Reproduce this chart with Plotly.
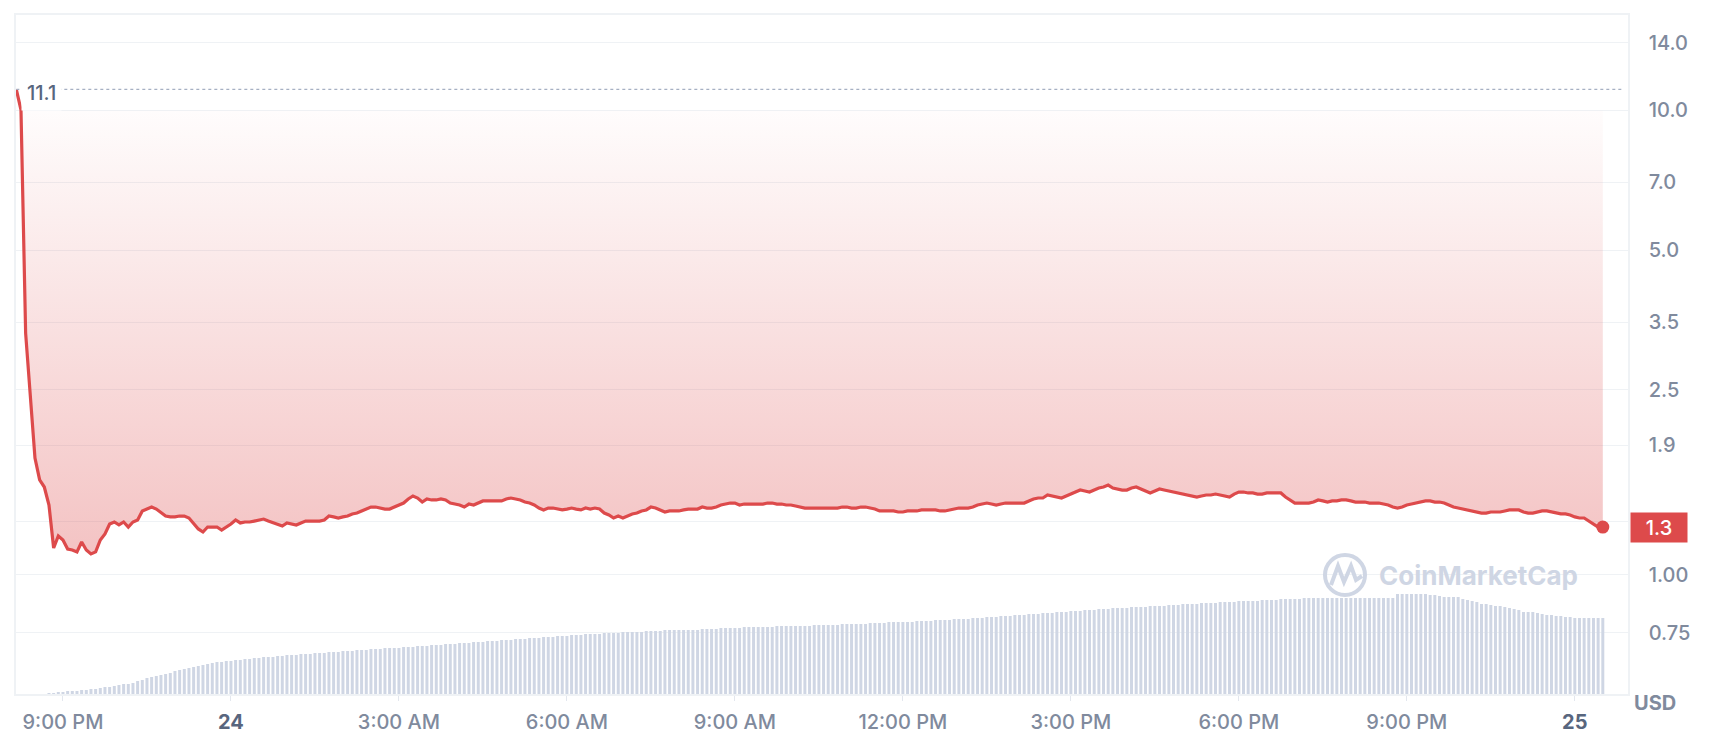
import math
import pandas as pd
import plotly.graph_objects as go

# ---------------- data ----------------
start_time = "2024-03-23 20:10"   # first 5-minute sample
sample_freq = "5min"

price = [
    11.1, 10.02, 3.31, 2.46, 1.782, 1.599, 1.544, 1.412, 1.141, 1.211, 1.187, 1.135,
    1.130, 1.119, 1.175, 1.130, 1.108, 1.119, 1.187, 1.223, 1.285, 1.298, 1.279, 1.298,
    1.266, 1.298, 1.311, 1.371, 1.384, 1.398, 1.384, 1.357, 1.337, 1.331, 1.331, 1.337,
    1.337, 1.324, 1.285, 1.254, 1.235, 1.266, 1.266, 1.266, 1.247, 1.266, 1.285, 1.311,
    1.292, 1.298, 1.298, 1.304, 1.311, 1.317, 1.304, 1.292, 1.285, 1.272, 1.292, 1.285,
    1.279, 1.292, 1.304, 1.304, 1.304, 1.304, 1.311, 1.337, 1.331, 1.324, 1.331, 1.337,
    1.351, 1.357, 1.371, 1.384, 1.398, 1.398, 1.391, 1.384, 1.384, 1.398, 1.412, 1.426,
    1.455, 1.477, 1.462, 1.433, 1.455, 1.448, 1.448, 1.455, 1.448, 1.426, 1.419, 1.412,
    1.398, 1.419, 1.412, 1.426, 1.441, 1.441, 1.441, 1.441, 1.441, 1.455, 1.462, 1.455,
    1.448, 1.433, 1.426, 1.412, 1.391, 1.378, 1.391, 1.391, 1.384, 1.378, 1.384, 1.391,
    1.384, 1.378, 1.391, 1.384, 1.391, 1.384, 1.357, 1.344, 1.324, 1.337, 1.324, 1.337,
    1.351, 1.357, 1.371, 1.378, 1.398, 1.391, 1.378, 1.364, 1.371, 1.371, 1.371, 1.378,
    1.384, 1.384, 1.384, 1.398, 1.391, 1.391, 1.398, 1.412, 1.419, 1.426, 1.426, 1.412,
    1.419, 1.419, 1.419, 1.419, 1.419, 1.426, 1.426, 1.419, 1.419, 1.412, 1.412, 1.405,
    1.398, 1.391, 1.391, 1.391, 1.391, 1.391, 1.391, 1.391, 1.391, 1.398, 1.398, 1.391,
    1.391, 1.398, 1.398, 1.391, 1.384, 1.371, 1.371, 1.371, 1.371, 1.364, 1.364, 1.371,
    1.371, 1.371, 1.378, 1.378, 1.378, 1.378, 1.371, 1.371, 1.378, 1.384, 1.391, 1.391,
    1.391, 1.398, 1.412, 1.419, 1.426, 1.419, 1.412, 1.419, 1.426, 1.426, 1.426, 1.426,
    1.426, 1.441, 1.455, 1.462, 1.462, 1.484, 1.477, 1.469, 1.462, 1.477, 1.491, 1.506,
    1.521, 1.514, 1.506, 1.521, 1.536, 1.544, 1.559, 1.536, 1.529, 1.521, 1.521, 1.536,
    1.544, 1.529, 1.514, 1.499, 1.514, 1.529, 1.521, 1.514, 1.506, 1.499, 1.491, 1.484,
    1.477, 1.469, 1.477, 1.484, 1.484, 1.491, 1.484, 1.477, 1.469, 1.491, 1.506, 1.506,
    1.499, 1.499, 1.491, 1.491, 1.499, 1.499, 1.499, 1.499, 1.469, 1.448, 1.426, 1.426,
    1.426, 1.426, 1.433, 1.448, 1.441, 1.433, 1.441, 1.441, 1.448, 1.448, 1.441, 1.433,
    1.433, 1.433, 1.426, 1.426, 1.426, 1.419, 1.412, 1.398, 1.391, 1.398, 1.412, 1.419,
    1.426, 1.433, 1.441, 1.441, 1.433, 1.433, 1.426, 1.412, 1.398, 1.391, 1.384, 1.378,
    1.371, 1.364, 1.357, 1.357, 1.364, 1.364, 1.364, 1.371, 1.378, 1.378, 1.378, 1.364,
    1.357, 1.357, 1.364, 1.371, 1.371, 1.364, 1.357, 1.351, 1.351, 1.344, 1.331, 1.324,
    1.324, 1.304, 1.285, 1.266, 1.266,
]

# 24h volume (relative units), one bar per 5-minute sample
volume = [
    0, 0, 0, 0, 0, 0, 0, 1, 1, 2, 2, 3,
    3, 3, 4, 4, 5, 5, 6, 7, 7, 8, 9, 10,
    10, 11, 13, 14, 16, 17, 18, 19, 20, 21, 23, 24,
    25, 26, 27, 28, 29, 30, 31, 32, 32, 33, 33, 34,
    34, 35, 35, 36, 36, 37, 37, 37, 38, 38, 39, 39,
    39, 40, 40, 40, 41, 41, 41, 42, 42, 42, 43, 43,
    43, 44, 44, 44, 45, 45, 45, 46, 46, 46, 46, 47,
    47, 47, 48, 48, 48, 49, 49, 49, 50, 50, 50, 51,
    51, 51, 52, 52, 52, 53, 53, 53, 54, 54, 54, 55,
    55, 55, 56, 56, 56, 57, 57, 57, 58, 58, 58, 59,
    59, 59, 60, 60, 60, 60, 61, 61, 61, 61, 62, 62,
    62, 62, 62, 63, 63, 63, 63, 64, 64, 64, 64, 64,
    64, 64, 64, 65, 65, 65, 65, 66, 66, 66, 66, 66,
    67, 67, 67, 67, 67, 67, 67, 68, 68, 68, 68, 68,
    68, 68, 68, 69, 69, 69, 69, 69, 69, 70, 70, 70,
    70, 70, 70, 71, 71, 71, 71, 72, 72, 72, 72, 72,
    72, 73, 73, 73, 73, 74, 74, 74, 74, 75, 75, 75,
    75, 76, 76, 76, 77, 77, 77, 78, 78, 78, 79, 79,
    79, 80, 80, 80, 81, 81, 81, 82, 82, 82, 83, 83,
    83, 84, 84, 84, 85, 85, 85, 86, 86, 86, 86, 87,
    87, 87, 87, 88, 88, 88, 88, 89, 89, 89, 90, 90,
    90, 90, 91, 91, 91, 91, 92, 92, 92, 92, 93, 93,
    93, 93, 93, 94, 94, 94, 94, 95, 95, 95, 95, 95,
    96, 96, 96, 96, 96, 96, 96, 96, 96, 96, 96, 96,
    96, 96, 96, 96, 96, 96, 96, 96, 100, 100, 100, 100,
    100, 100, 100, 99, 99, 98, 97, 97, 97, 97, 95, 94,
    93, 92, 90, 90, 89, 88, 88, 87, 86, 85, 84, 82,
    82, 82, 81, 80, 79, 79, 78, 78, 77, 77, 76, 76,
    76, 76, 76, 76, 76,
]

baseline_price = 10.0      # reference level the area is filled up to
session_high = 11.1        # dotted reference line

x_tick_times = [
    "2024-03-23 21:00", "2024-03-24 00:00", "2024-03-24 03:00", "2024-03-24 06:00",
    "2024-03-24 09:00", "2024-03-24 12:00", "2024-03-24 15:00", "2024-03-24 18:00",
    "2024-03-24 21:00", "2024-03-25 00:00",
]
x_tick_labels = [
    "9:00 PM", "24", "3:00 AM", "6:00 AM", "9:00 AM", "12:00 PM",
    "3:00 PM", "6:00 PM", "9:00 PM", "25",
]
y_tick_vals = [0.75, 1.0, 1.3, 1.9, 2.5, 3.5, 5.0, 7.0, 10.0, 14.0]
y_tick_labels = ["0.75", "1.00", "", "1.9", "2.5", "3.5", "5.0", "7.0", "10.0", "14.0"]

# ---------------- styling ----------------
W, H = 1710, 738
PL, PR, PT, PB = 16, 1628, 15, 694       # plot area in pixels
RED = "#dd4a4b"
GREY = "#808a9d"
DARK = "#58667e"
GRID = "#eff2f5"
BAR = "#cfd6e4"
FONT = "Inter"
FS = 20
TICKFONT = dict(family=FONT, size=FS, color=GREY, weight=500)


def px(x):
    return (x - PL) / (PR - PL)


def py(y):
    return (PB - y) / (PB - PT)


def styled_tick(label):
    # day-of-month labels are shown bold and darker
    if label.isdigit():
        return f'<b><span style="color:{DARK}">{label}</span></b>'
    return label


times = pd.date_range(start_time, periods=len(price), freq=sample_freq)
x_range = [times[0] - pd.Timedelta(seconds=20), times[-1] + pd.Timedelta(minutes=27)]

fig = go.Figure()

# volume bars (secondary axis)
fig.add_trace(go.Bar(
    x=times, y=volume, yaxis="y2", marker=dict(color=BAR, line=dict(width=0)),
    hoverinfo="skip", showlegend=False,
))

# baseline for area fill
fig.add_trace(go.Scatter(
    x=times, y=[baseline_price] * len(times), mode="lines",
    line=dict(width=0, color="rgba(0,0,0,0)"), hoverinfo="skip", showlegend=False,
))

# price line with gradient fill up to the baseline
fig.add_trace(go.Scatter(
    x=times, y=price, mode="lines", fill="tonexty",
    fillgradient=dict(type="vertical",
                      colorscale=[[0, "rgba(221,74,75,0.33)"], [1, "rgba(221,74,75,0.0)"]]),
    line=dict(color=RED, width=3.2), showlegend=False,
))

# dotted high line
fig.add_trace(go.Scatter(
    x=[times[0], times[-1] + pd.Timedelta(minutes=21)], y=[session_high, session_high],
    mode="lines", line=dict(color="#a6b0c3", width=1.2, dash="dot"),
    hoverinfo="skip", showlegend=False,
))

# last price marker
fig.add_trace(go.Scatter(
    x=[times[-1]], y=[price[-1]], mode="markers",
    marker=dict(color=RED, size=13), hoverinfo="skip", showlegend=False,
))

annotations = [
    dict(xref="paper", x=0, xanchor="left", xshift=5, yshift=-4, yref="y",
         y=math.log10(session_high), yanchor="middle", text=f"{session_high:.1f}",
         showarrow=False, font=dict(family=FONT, size=FS, color=DARK, weight=500),
         bgcolor="white", borderpad=5),
    dict(xref="paper", x=1, xanchor="left", xshift=2, yref="y", y=math.log10(price[-1]),
         yanchor="middle", text=f"{price[-1]:.1f}", showarrow=False, width=50, height=23,
         align="center", font=dict(family=FONT, size=FS, color="white", weight=500),
         bgcolor=RED, borderpad=3),
    dict(xref="paper", x=1, xanchor="left", xshift=4, yref="paper", y=py(703),
         yanchor="middle", text="<b>USD</b>", showarrow=False,
         font=dict(family=FONT, size=FS, color=GREY)),
    dict(xref="paper", x=px(1478), xanchor="center", yref="paper", y=py(575),
         yanchor="middle", text="<b>CoinMarketCap</b>", showarrow=False,
         font=dict(family=FONT, size=26, color=BAR)),
]

# CoinMarketCap logo (watermark)
cx, cy, r = 1345, 575, 20
shapes = [
    dict(type="circle", xref="paper", yref="paper",
         x0=px(cx - r), x1=px(cx + r), y0=py(cy + r), y1=py(cy - r),
         line=dict(color=BAR, width=4)),
    dict(type="path", xref="paper", yref="paper",
         path=("M {:.5f},{:.5f} L {:.5f},{:.5f} L {:.5f},{:.5f} L {:.5f},{:.5f} "
               "L {:.5f},{:.5f} L {:.5f},{:.5f}").format(
             px(1331), py(585), px(1338), py(566), px(1344), py(582),
             px(1351), py(566), px(1356), py(580), px(1362), py(576)),
         line=dict(color=BAR, width=4)),
]

fig.update_layout(
    width=W, height=H, autosize=False,
    margin=dict(l=PL, r=W - PR, t=PT, b=H - PB, pad=0),
    paper_bgcolor="white", plot_bgcolor="white",
    bargap=0.36, showlegend=False,
    font=dict(family=FONT, size=FS, color=GREY),
    annotations=annotations, shapes=shapes,
    xaxis=dict(
        type="date", range=x_range, tickvals=x_tick_times,
        ticktext=[styled_tick(t) for t in x_tick_labels],
        showgrid=False, showline=True, linecolor=GRID, linewidth=1.5, mirror=True,
        ticks="outside", ticklen=5, tickcolor="#e3e7ee", tickwidth=1,
        ticklabelstandoff=4, tickfont=TICKFONT,
        zeroline=False, fixedrange=True, automargin=False,
    ),
    yaxis=dict(
        type="log", side="right",
        range=[math.log10(0.553), math.log10(16.05)],
        tickvals=y_tick_vals, ticktext=y_tick_labels,
        showgrid=True, gridcolor=GRID, gridwidth=1,
        showline=True, linecolor=GRID, linewidth=1.5, mirror=True,
        ticks="", ticklabelstandoff=15, tickfont=TICKFONT,
        zeroline=False, fixedrange=True, automargin=False,
    ),
    yaxis2=dict(
        overlaying="y", side="left", range=[0, max(volume) * (PB - PT) / 100],
        showgrid=False, showticklabels=False, showline=False, zeroline=False,
        fixedrange=True, automargin=False,
    ),
)

# remove the browser's default page margin so the figure fills the window exactly
fig.write_html(
    "out.html",
    config={"displayModeBar": False},
    post_script="document.body.style.margin='0';document.body.style.overflow='hidden';",
)
